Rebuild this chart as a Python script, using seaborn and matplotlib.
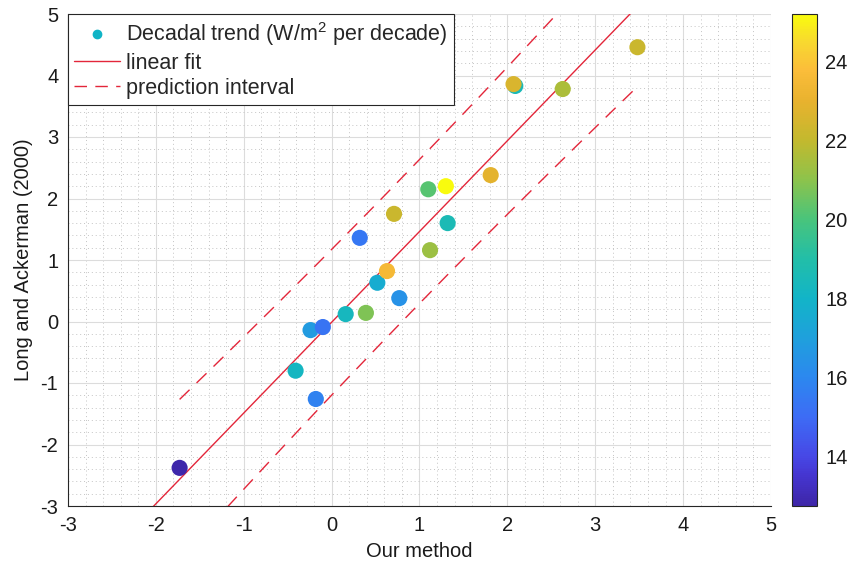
import numpy as np
import seaborn as sns
import matplotlib.pyplot as plt
from matplotlib.colors import LinearSegmentedColormap, Normalize
from matplotlib.lines import Line2D
from matplotlib.ticker import MultipleLocator

# points
our_method = [-1.73, -0.41, -0.18, -0.24, -0.10, 0.16, 0.39, 0.52, 0.77, 0.63, 0.32,
              0.71, 1.12, 1.10, 1.30, 1.32, 1.81, 2.09, 2.07, 2.63, 3.48]
long_ackerman = [-2.38, -0.80, -1.26, -0.14, -0.09, 0.12, 0.14, 0.63, 0.38, 0.82, 1.36,
                 1.75, 1.16, 2.15, 2.20, 1.60, 2.38, 3.83, 3.86, 3.78, 4.46]
trend_colour = [12.8, 18.2, 15.8, 16.8, 15.3, 18.3, 20.8, 17.6, 16.4, 23.5, 15.4,
                22.2, 21.3, 20.2, 25.2, 18.6, 22.9, 18.5, 22.6, 21.6, 22.2]
clim = (12.75, 25.2)
cbar_ticks = [14, 16, 18, 20, 22, 24]
axis_ticks = [-3, -2, -1, 0, 1, 2, 3, 4, 5]

# colour stops of the colour bar (value, colour), parula-like
cmap_values = [12.75, 13.5, 14, 15, 16, 17, 18, 19, 20, 21, 22, 23, 23.8, 24.5, 25.2]
cmap_colours = ["#3e26a8", "#4535d0", "#4748e6", "#3d6cf5", "#2c88ef", "#1fa0dc",
                "#12b4c8", "#22bea8", "#48c47c", "#8cc34c", "#c2b92e", "#e8b22e",
                "#fbbd3a", "#f8d830", "#f9fb0e"]

sns.set_style("white")
plt.rcParams['font.family'] = ['Liberation Sans', 'DejaVu Sans']
plt.rcParams['mathtext.default'] = 'regular'
plt.rcParams['axes.unicode_minus'] = False

stops = [(v - clim[0]) / (clim[1] - clim[0]) for v in cmap_values]
parula = LinearSegmentedColormap.from_list("parula", list(zip(stops, cmap_colours)))

fig = plt.figure(figsize=(8.54, 5.66), dpi=100)
ax = fig.add_axes([68 / 854, 60 / 566, 703 / 854, 492 / 566])
cax = fig.add_axes([792 / 854, 60 / 566, 25 / 854, 492 / 566])

x = np.array(our_method)
y = np.array(long_ackerman)

# linear fit + 95% prediction interval
n = len(x)
slope, intercept = np.polyfit(x, y, 1)
resid = y - (slope * x + intercept)
s = np.sqrt(np.sum(resid ** 2) / (n - 2))
sxx = np.sum((x - x.mean()) ** 2)
t95 = 2.093  # t(0.975, df=19)

xf = np.linspace(-3, 5, 200)
xp = np.linspace(x.min(), x.max(), 200)
half = t95 * s * np.sqrt(1 + 1 / n + (xp - x.mean()) ** 2 / sxx)
yp = slope * xp + intercept

red = "#e3263a"
ax.plot(xf, slope * xf + intercept, color=red, lw=1.0, zorder=2)
ax.plot(xp, yp + half, color=red, lw=1.0, dashes=(10, 7), zorder=2)
ax.plot(xp, yp - half, color=red, lw=1.0, dashes=(10, 7), zorder=2)

sns.scatterplot(x=x, y=y, hue=trend_colour, palette=parula, hue_norm=clim,
                s=135, edgecolor="none", linewidth=0, legend=False, ax=ax, zorder=3)

ax.set_xlim(-3, 5)
ax.set_ylim(-3, 5)
ax.set_xticks(axis_ticks)
ax.set_yticks(axis_ticks)
ax.xaxis.set_minor_locator(MultipleLocator(0.2))
ax.yaxis.set_minor_locator(MultipleLocator(0.2))
ax.grid(which="major", color="#dcdcdc", lw=0.8)
ax.grid(which="minor", color="#c4c4c4", lw=0.7, linestyle=(0, (1, 3)))
ax.set_axisbelow(True)
for side in ["top", "right"]:
    ax.spines[side].set_visible(False)
for side in ["left", "bottom"]:
    ax.spines[side].set_color("#262626")
    ax.spines[side].set_linewidth(0.8)
ax.tick_params(which="major", direction="in", length=5, width=0.8,
               color="#262626", labelsize=14.5, labelcolor="#1a1a1a", pad=7)
ax.tick_params(which="minor", length=0)
ax.set_xlabel("Our method", fontsize=14.5, color="#1a1a1a", labelpad=5)
ax.set_ylabel("Long and Ackerman (2000)", fontsize=14.5, color="#1a1a1a", labelpad=5)

handles = [
    Line2D([], [], marker="o", color="#10b4c6", markersize=6, linestyle="none"),
    Line2D([], [], color=red, lw=1.0),
    Line2D([], [], color=red, lw=1.0, dashes=(9, 6)),
]
labels = ["Decadal trend (W/m$^2$ per decade)", "linear fit", "prediction interval"]
leg = ax.legend(handles, labels, loc="upper left", borderaxespad=0, fontsize=15.5,
                frameon=True, fancybox=False, edgecolor="#262626", framealpha=1,
                handlelength=2.1, handletextpad=0.3, labelspacing=0.2,
                borderpad=0.3)
leg.get_frame().set_linewidth(0.8)

sm = plt.cm.ScalarMappable(norm=Normalize(*clim), cmap=parula)
cb = fig.colorbar(sm, cax=cax, ticks=cbar_ticks)
cb.outline.set_linewidth(0.8)
cb.outline.set_edgecolor("#262626")
cax.tick_params(direction="in", length=4, width=0.8, labelsize=14.5,
                labelcolor="#1a1a1a", color="#262626", pad=6)

fig.savefig("out.png", dpi=100)
